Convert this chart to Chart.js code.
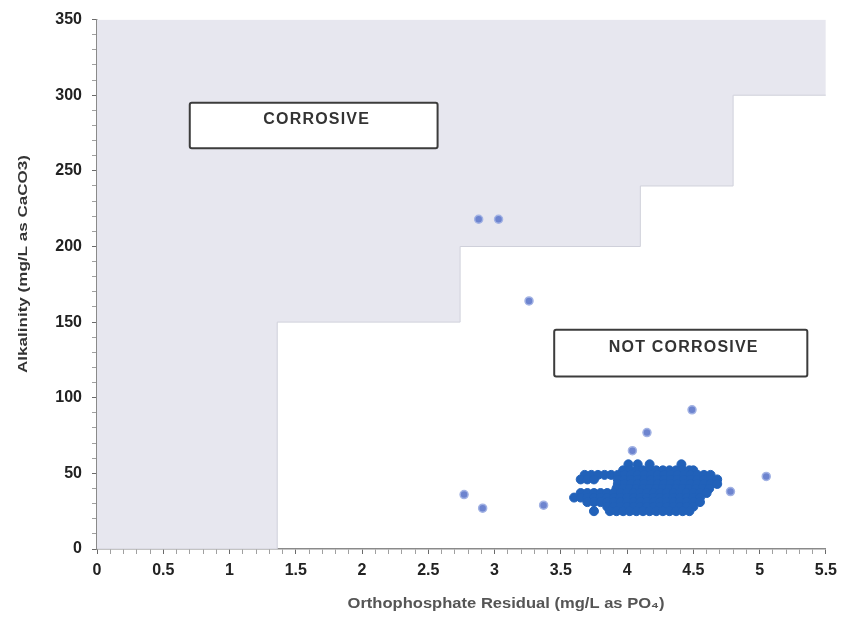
<!DOCTYPE html>
<html><head><meta charset="utf-8">
<script src="https://cdn.jsdelivr.net/npm/chart.js@4/dist/chart.umd.min.js"></script>
<style>html,body{margin:0;padding:0;background:#fff;}canvas{display:block;}</style>
</head><body>
<canvas id="c" width="844" height="617"></canvas>
<script>
// ---- data ----
const xTitle = 'Orthophosphate Residual (mg/L as PO\u2084)';
const yTitle = 'Alkalinity (mg/L as CaCO3)';
const xMin = 0, xMax = 5.5, xStep = 0.1, xLabelEvery = 0.5;
const yMin = 0, yMax = 350, yStep = 10, yLabelEvery = 50;

// corrosive region boundary (step levels)
const regionX = [0, 1.36, 2.74, 4.1, 4.8, 5.5];
const regionY = [0, 150, 200, 240, 300, 300];

// labelled boxes
const boxLabels = ['CORROSIVE', 'NOT CORROSIVE'];
const boxX0 = [0.70, 3.45];
const boxX1 = [2.57, 5.36];
const boxYTop = [295, 145];
const boxYBottom = [265, 114];

// isolated samples
const outlierX = [2.88, 3.03, 3.26, 4.49, 4.15, 4.04, 2.77, 2.91, 3.37, 5.05, 4.78];
const outlierY = [218, 218, 164, 92, 77, 65, 36, 27, 29, 48, 38];

// dense sample cluster, read row by row
const clusterRowY = [56, 52, 49, 46, 43, 40, 37, 34, 31, 28, 25];
const clusterRowX = [
  [4.01,4.08,4.17,4.41],
  [3.97,4.02,4.07,4.12,4.17,4.22,4.27,4.32,4.37,4.42,4.47,4.50],
  [3.68,3.73,3.78,3.83,3.88,3.93,3.98,4.03,4.08,4.13,4.18,4.23,4.28,4.33,4.38,4.43,4.48,4.53,4.58,4.63],
  [3.65,3.70,3.75,3.93,3.98,4.03,4.08,4.13,4.18,4.23,4.28,4.33,4.38,4.43,4.48,4.53,4.58,4.63,4.68],
  [3.93,3.98,4.03,4.08,4.13,4.18,4.23,4.28,4.33,4.38,4.43,4.48,4.53,4.58,4.63,4.68],
  [3.92,3.97,4.02,4.07,4.12,4.17,4.22,4.27,4.32,4.37,4.42,4.47,4.52,4.57,4.62],
  [3.65,3.70,3.75,3.80,3.85,3.90,3.95,4.00,4.05,4.10,4.15,4.20,4.25,4.30,4.35,4.40,4.45,4.50,4.55,4.60],
  [3.60,3.65,3.70,3.75,3.80,3.85,3.90,3.95,4.00,4.05,4.10,4.15,4.20,4.25,4.30,4.35,4.40,4.45,4.50,4.55],
  [3.70,3.75,3.80,3.85,3.90,3.95,4.00,4.05,4.10,4.15,4.20,4.25,4.30,4.35,4.40,4.45,4.50,4.55],
  [3.85,3.90,3.95,4.00,4.05,4.10,4.15,4.20,4.25,4.30,4.35,4.40,4.45,4.50],
  [3.75,3.87,3.92,3.97,4.02,4.07,4.12,4.17,4.22,4.27,4.32,4.37,4.42,4.47]
];

// ---- build ----
const regionData = regionX.map((x, i) => ({x, y: regionY[i]}));
const outlierData = outlierX.map((x, i) => ({x, y: outlierY[i]}));
const clusterData = clusterRowY.flatMap((y, i) => clusterRowX[i].map(x => ({x, y})));

const FONT = '"Liberation Sans", Arial, sans-serif';

const boxPlugin = {
  id: 'boxes',
  afterDatasetsDraw(chart) {
    const {ctx, scales: {x, y}} = chart;
    ctx.save();
    boxLabels.forEach((label, i) => {
      const l = x.getPixelForValue(boxX0[i]);
      const r = x.getPixelForValue(boxX1[i]);
      const t = y.getPixelForValue(boxYTop[i]);
      const b = y.getPixelForValue(boxYBottom[i]);
      ctx.beginPath();
      ctx.roundRect(l, t, r - l, b - t, 2);
      ctx.fillStyle = '#ffffff';
      ctx.fill();
      ctx.lineWidth = 2;
      ctx.strokeStyle = '#3c3c3c';
      ctx.stroke();
      ctx.fillStyle = '#333333';
      ctx.font = 'bold 16px ' + FONT;
      try { ctx.letterSpacing = '1.2px'; } catch (e) {}
      ctx.textAlign = 'center';
      ctx.textBaseline = 'middle';
      ctx.fillText(label, (l + r) / 2 + 3, t + (b - t) * 0.38);
      try { ctx.letterSpacing = '0px'; } catch (e) {}
    });
    ctx.restore();
  }
};

const titlePlugin = {
  id: 'titles',
  afterDraw(chart) {
    const {ctx} = chart;
    // x title
    ctx.save();
    ctx.font = 'bold 15px ' + FONT;
    let w = ctx.measureText(xTitle).width;
    ctx.translate(506, 604);
    ctx.scale(317 / w, 1);
    ctx.textAlign = 'center';
    ctx.textBaseline = 'middle';
    ctx.fillStyle = '#555555';
    ctx.fillText(xTitle, 0, 0);
    ctx.restore();
    // y title
    ctx.save();
    ctx.font = 'bold 13px ' + FONT;
    w = ctx.measureText(yTitle).width;
    ctx.translate(23, 264);
    ctx.rotate(-Math.PI / 2);
    ctx.scale(218 / w, 1);
    ctx.textAlign = 'center';
    ctx.textBaseline = 'middle';
    ctx.fillStyle = '#333333';
    ctx.fillText(yTitle, 0, 0);
    ctx.restore();
  }
};

new Chart(document.getElementById('c'), {
  type: 'scatter',
  data: {
    datasets: [
      {
        type: 'line',
        label: 'Corrosive region',
        data: regionData,
        stepped: 'before',
        fill: 'end',
        backgroundColor: '#e7e7ef',
        borderColor: '#d0d1db',
        borderWidth: 1,
        pointRadius: 0,
        order: 3
      },
      {
        label: 'Samples',
        data: clusterData,
        backgroundColor: '#2161b9',
        borderColor: '#2161b9',
        borderWidth: 1,
        pointRadius: 4.5,
        order: 2
      },
      {
        label: 'Isolated samples',
        data: outlierData,
        backgroundColor: '#6d84cf',
        borderColor: '#a3b3e4',
        borderWidth: 1.5,
        pointRadius: 4,
        order: 1
      }
    ]
  },
  options: {
    responsive: false,
    animation: false,
    devicePixelRatio: 1,
    layout: {padding: {left: 0, right: 16, top: 19, bottom: 0}},
    plugins: {legend: {display: false}, tooltip: {enabled: false}},
    scales: {
      x: {
        type: 'linear',
        min: xMin, max: xMax,
        afterFit(s) { s.height = 68; },
        border: {display: true, color: '#8a8a8a', width: 1.5},
        grid: {
          drawOnChartArea: false, drawTicks: true, tickLength: 5,
          tickColor: c => (Math.round(c.tick.value * 10) % Math.round(xLabelEvery * 10) === 0) ? '#6a6a6a' : '#a0a0a0'
        },
        ticks: {
          stepSize: xStep, autoSkip: false, maxRotation: 0, minRotation: 0, maxTicksLimit: 1000,
          padding: 7,
          color: '#222',
          font: {family: FONT, size: 16, weight: 'bold'},
          callback: v => (Math.round(v * 10) % Math.round(xLabelEvery * 10) === 0) ? String(Math.round(v * 10) / 10) : ''
        }
      },
      y: {
        type: 'linear',
        min: yMin, max: yMax,
        afterFit(s) { s.width = 97; },
        border: {display: true, color: '#8a8a8a', width: 1.5},
        grid: {
          drawOnChartArea: false, drawTicks: true, tickLength: 5,
          tickColor: c => (c.tick.value % yLabelEvery === 0) ? '#6a6a6a' : '#a0a0a0'
        },
        ticks: {
          stepSize: yStep, autoSkip: false, maxTicksLimit: 1000,
          padding: 10,
          color: '#222',
          font: {family: FONT, size: 16, weight: 'bold'},
          callback: v => (v % yLabelEvery === 0) ? String(v) : ''
        }
      }
    }
  },
  plugins: [boxPlugin, titlePlugin]
});
</script>
</body></html>
